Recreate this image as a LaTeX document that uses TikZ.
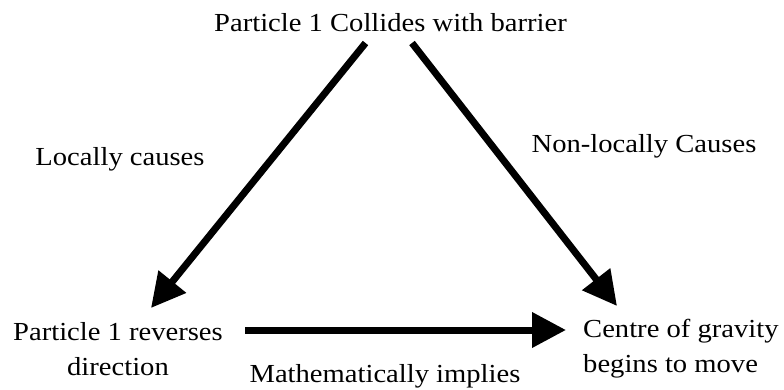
\documentclass[tikz,border=0pt]{standalone}
\usepackage{fontspec}
\setmainfont{Liberation Serif}[FakeStretch=1.1]
\usetikzlibrary{arrows.meta}
\tikzset{
  lbl/.style={inner sep=0pt, font=\fontsize{26}{35}\selectfont},
  causal/.style={line width=7pt, -{Triangle[length=34pt,width=34pt]}}
}
\begin{document}
\begin{tikzpicture}[x=1pt, y=-1pt]
  \useasboundingbox (0,0) rectangle (784,390);
  \node[lbl, anchor=base] (collide) at (390.5,32) {Particle 1 Collides with barrier};
  \node[lbl, anchor=base] (local) at (120,166) {Locally causes};
  \node[lbl, anchor=base] (nonlocal) at (644,153) {Non-locally Causes};
  \node[lbl, anchor=base, align=center] (reverse) at (118,375) {Particle 1 reverses\\direction};
  \node[lbl, anchor=base west, align=left] (gravity) at (583,372) {Centre of gravity\\begins to move};
  \node[lbl, anchor=base] (implies) at (385,382) {Mathematically implies};
  \draw[causal] ([xshift=-25pt,yshift=-11pt]collide.base) -- ([xshift=33pt,yshift=67pt]reverse.base);
  \draw[causal] ([xshift=21.5pt,yshift=-11pt]collide.base) -- ([xshift=34pt,yshift=66pt]gravity.base west);
  \draw[causal] ([xshift=127pt,yshift=45pt]reverse.base) -- ([xshift=-17pt,yshift=42pt]gravity.base west);
\end{tikzpicture}
\end{document}
